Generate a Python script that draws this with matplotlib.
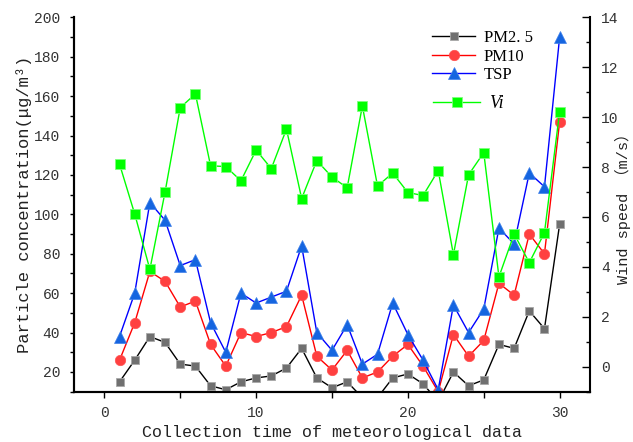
import numpy as np
import matplotlib
matplotlib.use('Agg')
import matplotlib.pyplot as plt
from matplotlib.ticker import MultipleLocator

plt.rcParams['font.family'] = ['Liberation Mono', 'Noto Sans CJK SC', 'DejaVu Sans']

# collection time index
days = list(range(1, 31))

# particle concentration (ug/m3)
pm25 = [15, 26, 38, 35, 24, 23, 13, 11, 15, 17, 18, 22, 32, 17, 12,
        15, 7, 7, 17, 19, 14, 5, 20, 13, 16, 34, 32, 51, 42, 95]
pm10 = [26, 45, 71, 66, 53, 56, 34, 23, 40, 38, 40, 43, 59, 28, 21,
        31, 17, 20, 28, 34, 23, 10, 39, 28, 36, 65, 59, 90, 80, 147]
tsp = [38, 60, 106, 97, 74, 77, 45, 30, 60, 55, 58, 61, 84, 40, 31,
       44, 24, 29, 55, 39, 26, 11, 54, 40, 52, 93, 85, 121, 114, 190]

# wind speed (m/s)
vi = [8.12, 6.12, 3.9, 7.0, 10.38, 10.93, 8.05, 8.02, 7.45, 8.68,
      7.94, 9.52, 6.74, 8.26, 7.6, 7.17, 10.45, 7.24, 7.76, 6.98,
      6.86, 7.86, 4.49, 7.69, 8.58, 3.6, 5.32, 4.17, 5.37, 10.22]

W, H = 633, 442
fig = plt.figure(figsize=(W/100, H/100), dpi=100)
ax = fig.add_axes([74/W, 1-391.7/H, 516/W, 374.4/H])
ax2 = ax.twinx()

l1, = ax.plot(days, pm25, '-s', color='black', lw=1, ms=6,
              mfc='#707070', mec='#a8a8a8', mew=0.6, label='PM2. 5')
l2, = ax.plot(days, pm10, '-o', color='#ff0000', lw=1, ms=7.5,
              mfc='#ff4040', mec='#ff5050', mew=0.5, label='PM10')
l3, = ax.plot(days, tsp, '-^', color='#0000ff', lw=1, ms=8,
              mfc='#1565e0', mec='#3f80ea', mew=0.5, label='TSP')
l4, = ax2.plot(days, vi, '-s', color='#00ff00', lw=1, ms=6.5,
               mfc='#00ff00', mec='#7dff7d', mew=0.6, label='Vi')

ax.set_xlim(-2, 32)
ax.set_ylim(10, 200)
ax2.set_ylim(-1, 14)

ax.xaxis.set_major_locator(MultipleLocator(10))
ax.xaxis.set_minor_locator(MultipleLocator(5))
ax.yaxis.set_major_locator(MultipleLocator(20))
ax.yaxis.set_minor_locator(MultipleLocator(10))
ax2.yaxis.set_major_locator(MultipleLocator(2))
ax2.yaxis.set_minor_locator(MultipleLocator(1))

for a in (ax, ax2):
    a.spines['top'].set_visible(False)
    for s in a.spines.values():
        s.set_linewidth(1.5)
ax.spines['right'].set_visible(False)

ax.tick_params(axis='x', which='both', direction='out', length=4, width=1,
               labelsize=10.5, pad=6, labelcolor='#333333')
ax.tick_params(axis='y', which='both', direction='out', length=3, width=1,
               labelsize=10.5, pad=7, labelcolor='#333333')
ax2.tick_params(axis='y', which='both', direction='in', length=6, width=1,
                labelsize=10.5, pad=8, labelcolor='#333333')
ax2.tick_params(axis='y', which='minor', length=3)

fig.text(332/W, 1-432/H, 'Collection time of meteorological data',
         ha='center', va='center', fontsize=12, color='#222222')
fig.text(24/W, 1-204.5/H, 'Particle concentration(μg/m³)',
         ha='center', va='center', rotation=90, fontsize=12.3, color='#222222')
fig.text(623/W, 1-204.5/H, 'Wind speed （m/s）',
         ha='center', va='center', rotation=90, fontsize=11, color='#222222')

leg1 = ax.legend(handles=[l1, l2, l3], loc='upper left',
                 bbox_to_anchor=(0.665, 1.006), frameon=False,
                 handlelength=2.6, handletextpad=0.5, labelspacing=0.15,
                 prop={'family': 'Liberation Serif', 'size': 12})
leg2 = ax2.legend(handles=[l4], labels=['Vi'], loc='upper left',
                  bbox_to_anchor=(0.665, 0.836), frameon=False,
                  handlelength=2.6, handletextpad=0.5,
                  prop={'family': 'Liberation Serif', 'size': 13, 'style': 'italic'})

fig.savefig('out.png', dpi=100)
